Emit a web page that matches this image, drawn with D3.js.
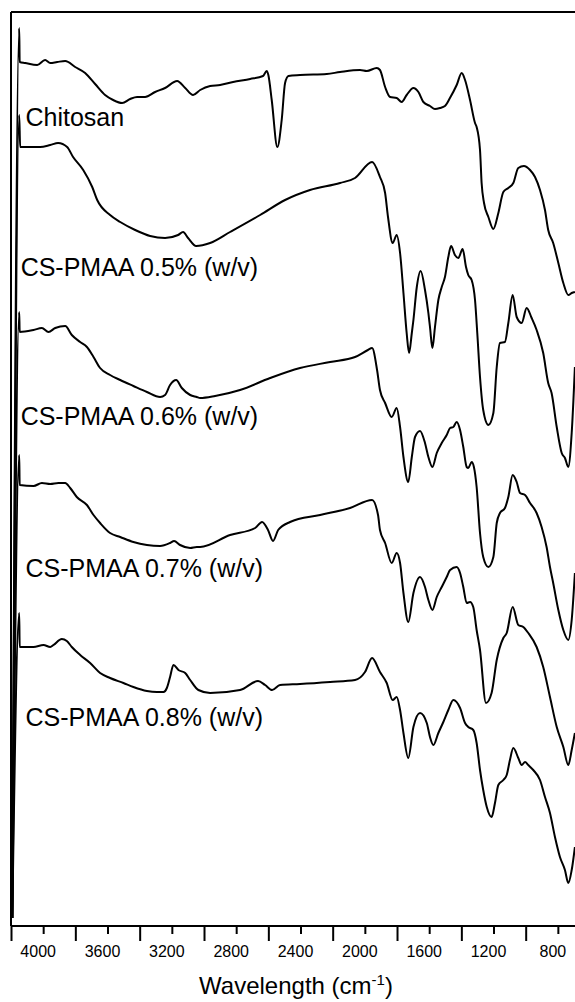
<!DOCTYPE html>
<html>
<head>
<meta charset="utf-8">
<script src="https://cdn.jsdelivr.net/npm/d3@7"></script>
<style>
  html, body { margin: 0; padding: 0; background: #fff; }
  svg { display: block; }
  text { font-family: "Liberation Sans", Arial, sans-serif; fill: #000; }
</style>
</head>
<body>
<svg id="chart" width="575" height="1002"></svg>
<script>
// FTIR spectra: [wavenumber (cm-1), transmittance (a.u., stacked offsets)]
const chitosan = [
  [4192, 8], [4149, 898], [4146, 864], [4112, 863], [4037, 861], [3988, 866], [3956, 863],
  [3913, 864], [3863, 865], [3801, 859], [3739, 853], [3677, 842], [3615, 831], [3565, 826],
  [3509, 823], [3459, 827], [3416, 829], [3366, 829], [3304, 834], [3242, 838], [3167, 845],
  [3117, 838], [3068, 831], [3024, 836], [2962, 840], [2900, 841], [2819, 844], [2713, 847],
  [2633, 850], [2610, 855], [2600, 851], [2579, 826], [2544, 779], [2517, 806], [2496, 843],
  [2475, 850], [2403, 851], [2237, 852], [2154, 854], [2030, 856], [1988, 855], [1926, 858],
  [1906, 856], [1874, 839], [1843, 829], [1802, 828], [1771, 824], [1740, 831], [1698, 838],
  [1667, 834], [1636, 824], [1595, 820], [1564, 817], [1533, 818], [1502, 820], [1471, 828],
  [1429, 841], [1398, 853], [1377, 846], [1346, 826], [1315, 803], [1305, 799], [1284, 776],
  [1274, 743], [1259, 723], [1232, 709], [1201, 697], [1170, 713], [1139, 734], [1108, 738],
  [1077, 743], [1046, 758], [1011, 760], [973, 756], [942, 749], [911, 736], [880, 716],
  [860, 696], [829, 683], [797, 663], [766, 643], [735, 631], [714, 633], [694, 634]
];

const pmaa05 = [
  [4192, 8], [4149, 811], [4143, 779], [4112, 779], [4019, 779], [3956, 781], [3907, 783],
  [3851, 779], [3814, 769], [3751, 756], [3695, 739], [3664, 726], [3584, 711], [3521, 704],
  [3428, 696], [3335, 690], [3242, 688], [3161, 691], [3130, 694], [3099, 688], [3049, 680],
  [2962, 683], [2838, 694], [2651, 711], [2496, 726], [2341, 736], [2154, 743], [2061, 748],
  [1955, 764], [1906, 749], [1874, 733], [1856, 709], [1827, 683], [1802, 691], [1781, 673],
  [1760, 633], [1740, 593], [1725, 573], [1708, 593], [1698, 606], [1677, 639], [1653, 655],
  [1626, 636], [1605, 613], [1595, 599], [1580, 578], [1564, 599], [1543, 626], [1522, 639],
  [1502, 649], [1481, 669], [1464, 680], [1440, 671], [1419, 668], [1392, 677], [1371, 659],
  [1357, 651], [1336, 646], [1315, 626], [1301, 593], [1284, 549], [1264, 516], [1232, 501],
  [1201, 513], [1180, 559], [1160, 583], [1129, 584], [1108, 603], [1081, 631], [1056, 609],
  [1025, 603], [994, 618], [963, 608], [932, 596], [891, 573], [860, 543], [839, 533],
  [807, 499], [776, 473], [756, 468], [735, 459], [714, 493], [694, 559]
];

const pmaa06 = [
  [4192, 8], [4149, 614], [4146, 594], [4060, 596], [4008, 598], [3967, 594], [3925, 598],
  [3863, 600], [3822, 591], [3770, 584], [3728, 579], [3687, 569], [3646, 558], [3584, 551],
  [3521, 546], [3439, 540], [3355, 534], [3273, 529], [3242, 531], [3211, 541], [3173, 546],
  [3138, 538], [3086, 531], [3045, 529], [3024, 528], [2931, 530], [2776, 536], [2589, 548],
  [2403, 558], [2216, 564], [2061, 569], [1981, 576], [1955, 578], [1924, 556], [1906, 536],
  [1874, 523], [1833, 509], [1802, 518], [1781, 499], [1760, 469], [1730, 444], [1708, 469],
  [1688, 489], [1657, 495], [1626, 483], [1605, 469], [1580, 459], [1553, 473], [1522, 483],
  [1491, 491], [1470, 498], [1450, 499], [1429, 504], [1408, 496], [1388, 479], [1367, 459],
  [1357, 458], [1336, 464], [1322, 459], [1305, 439], [1284, 393], [1264, 369], [1232, 359],
  [1201, 369], [1180, 403], [1160, 413], [1129, 418], [1108, 429], [1081, 451], [1056, 444],
  [1035, 433], [1004, 431], [973, 423], [932, 413], [901, 399], [870, 379], [849, 359],
  [829, 343], [797, 316], [766, 296], [735, 286], [714, 306], [694, 353]
];

const pmaa07 = [
  [4192, 8], [4149, 471], [4146, 441], [4060, 440], [4008, 443], [3956, 442], [3905, 443],
  [3863, 443], [3832, 438], [3791, 429], [3728, 421], [3687, 411], [3646, 403], [3584, 393],
  [3521, 389], [3439, 384], [3355, 381], [3273, 380], [3211, 383], [3186, 385], [3149, 381],
  [3086, 378], [3045, 379], [3024, 379], [2838, 391], [2682, 398], [2639, 404], [2602, 396],
  [2571, 385], [2539, 396], [2465, 404], [2278, 411], [2092, 418], [1955, 426], [1918, 411],
  [1906, 396], [1874, 383], [1833, 363], [1802, 373], [1781, 363], [1760, 333], [1730, 304],
  [1698, 333], [1657, 349], [1626, 339], [1605, 326], [1580, 316], [1553, 329], [1522, 339],
  [1491, 349], [1470, 356], [1429, 359], [1408, 353], [1388, 339], [1367, 323], [1346, 324],
  [1326, 319], [1305, 296], [1284, 276], [1247, 223], [1212, 233], [1180, 266], [1139, 288],
  [1118, 293], [1081, 319], [1046, 301], [1015, 299], [984, 293], [932, 279], [891, 259],
  [849, 229], [807, 199], [766, 179], [735, 161], [714, 176], [694, 193]
];

const pmaa08 = [
  [4192, 8], [4149, 313], [4146, 279], [4060, 279], [3998, 281], [3956, 279], [3936, 281],
  [3884, 287], [3853, 285], [3822, 279], [3770, 271], [3708, 263], [3646, 253], [3584, 248],
  [3501, 243], [3439, 239], [3355, 235], [3293, 234], [3252, 234], [3231, 238], [3211, 249],
  [3190, 261], [3159, 256], [3117, 253], [3086, 246], [3035, 236], [2962, 233], [2776, 236],
  [2664, 245], [2620, 241], [2577, 236], [2527, 241], [2403, 242], [2216, 244], [2061, 246],
  [1999, 254], [1955, 268], [1906, 254], [1864, 243], [1827, 226], [1802, 229], [1781, 216],
  [1760, 193], [1730, 168], [1698, 199], [1657, 213], [1615, 203], [1595, 189], [1574, 181],
  [1543, 193], [1512, 204], [1481, 216], [1450, 226], [1408, 218], [1377, 203], [1357, 199],
  [1326, 196], [1305, 183], [1284, 156], [1264, 136], [1242, 119], [1212, 109], [1191, 123],
  [1170, 141], [1139, 146], [1118, 151], [1098, 166], [1077, 178], [1046, 168], [1025, 161],
  [1004, 164], [984, 161], [953, 156], [911, 146], [880, 129], [849, 113], [818, 89],
  [787, 69], [756, 56], [735, 43], [714, 56], [694, 79]
];

const seriesNames = ["Chitosan", "CS-PMAA 0.5% (w/v)", "CS-PMAA 0.6% (w/v)", "CS-PMAA 0.7% (w/v)", "CS-PMAA 0.8% (w/v)"];
const seriesData = [chitosan, pmaa05, pmaa06, pmaa07, pmaa08];
// label anchor for each spectrum: [wavenumber, transmittance]
const labelAnchors = [[4110, 800], [4140, 650], [4140, 501], [4110, 349], [4110, 200]];

const labeledTicks = [4000, 3600, 3200, 2800, 2400, 2000, 1600, 1200, 800];
const longTicks = [4200, 3800, 3400, 3000, 2600, 2200, 1800, 1400, 1000];

const svg = d3.select("#chart");
const W = 575, H = 1002;
const margin = { left: 11, top: 12, bottom: 76 };

const x = d3.scaleLinear().domain([4200, 650]).range([margin.left, margin.left + 3550 * 0.16084]);
const y = d3.scaleLinear().domain([0, 914]).range([H - margin.bottom, margin.top]);

const plotBottom = y(0);

// frame: top and left border
svg.append("line")
  .attr("x1", x(4200)).attr("x2", W + 5)
  .attr("y1", margin.top).attr("y2", margin.top)
  .attr("stroke", "#000").attr("stroke-width", 2);
svg.append("line")
  .attr("x1", x(4200)).attr("x2", x(4200))
  .attr("y1", margin.top).attr("y2", plotBottom)
  .attr("stroke", "#000").attr("stroke-width", 2);

// bottom axis: long unlabeled ticks
const axisLong = d3.axisBottom(x).tickValues(longTicks).tickSize(15).tickFormat("");
const gLong = svg.append("g").attr("transform", `translate(0,${plotBottom})`).call(axisLong);
gLong.select(".domain").attr("stroke-width", 2).attr("d", `M${x(4200)},0H${W + 5}`);
gLong.selectAll(".tick line").attr("stroke-width", 2);

// bottom axis: short labeled ticks
const axisShort = d3.axisBottom(x).tickValues(labeledTicks).tickSize(8).tickPadding(12).tickFormat(d3.format("d"));
const gShort = svg.append("g").attr("transform", `translate(0,${plotBottom})`).call(axisShort);
gShort.select(".domain").remove();
gShort.selectAll(".tick line").attr("stroke-width", 2);
gShort.selectAll(".tick text")
  .attr("font-size", 16)
  .attr("font-family", "Liberation Sans, Arial, sans-serif")
  .attr("dx", -5.5)
  .attr("fill", "#000");

// axis title
const title = svg.append("text")
  .attr("x", 296).attr("y", 994)
  .attr("text-anchor", "middle")
  .attr("font-size", 24);
title.append("tspan").text("Wavelength (cm");
title.append("tspan").attr("font-size", 15).attr("dy", -9).text("-1");
title.append("tspan").attr("dy", 9).text(")");

// spectra
const line = d3.line()
  .x(d => x(d[0]))
  .y(d => y(d[1]))
  .curve(d3.curveMonotoneX);

svg.append("defs").append("clipPath").attr("id", "plotClip")
  .append("rect").attr("x", x(4200)).attr("y", margin.top).attr("width", W).attr("height", plotBottom - margin.top);

svg.append("g").attr("clip-path", "url(#plotClip)")
  .selectAll("path.spectrum")
  .data(seriesData)
  .join("path")
  .attr("class", "spectrum")
  .attr("d", line)
  .attr("fill", "none")
  .attr("stroke", "#000")
  .attr("stroke-width", 2)
  .attr("stroke-linejoin", "round");

// spectrum labels
svg.selectAll("text.series-label")
  .data(seriesNames)
  .join("text")
  .attr("class", "series-label")
  .attr("x", (d, i) => x(labelAnchors[i][0]))
  .attr("y", (d, i) => y(labelAnchors[i][1]))
  .attr("font-size", 25)
  .text(d => d);
</script>
</body>
</html>
